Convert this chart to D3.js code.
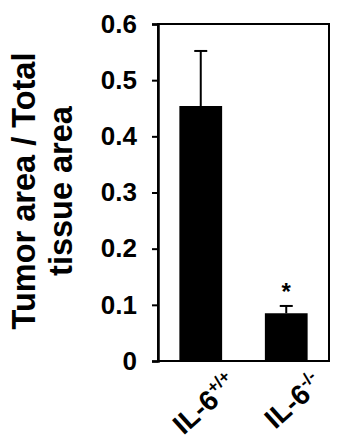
<!DOCTYPE html>
<html>
<head>
<meta charset="utf-8">
<script src="https://cdn.jsdelivr.net/npm/d3@7"></script>
<style>
  body { margin: 0; background: #fff; }
  text { font-family: "Liberation Sans", Arial, Helvetica, sans-serif; font-weight: bold; fill: #000; }
</style>
</head>
<body>
<svg id="chart" width="340" height="444"></svg>
<script>
// data
var groups = ["IL-6+/+", "IL-6-/-"];
var groupBase = ["IL-6", "IL-6"];
var groupSup = ["+/+", "-/-"];
var means = [0.454, 0.085];
var errors = [0.098, 0.013];
var signif = ["", "*"];
var yTicks = [0, 0.1, 0.2, 0.3, 0.4, 0.5, 0.6];
var yLabelLines = ["Tumor area / Total", "tissue area"];

var svg = d3.select("#chart");
var plotLeft = 158, plotRight = 329, plotTop = 24, plotBottom = 361;

var y = d3.scaleLinear().domain([0, 0.6]).range([plotBottom, plotTop]);
var x = d3.scaleBand().domain(groups).range([plotLeft, plotRight])
  .paddingInner(0.5).paddingOuter(0.25);

// frame
svg.append("rect")
  .attr("x", plotLeft).attr("y", plotTop)
  .attr("width", plotRight - plotLeft).attr("height", plotBottom - plotTop)
  .attr("fill", "none").attr("stroke", "#000").attr("stroke-width", 2);

// y axis
var yAxis = svg.append("g")
  .attr("transform", "translate(" + plotLeft + ",0)")
  .call(d3.axisLeft(y).tickValues(yTicks).tickSize(6).tickPadding(15)
    .tickFormat(function(d){ return d === 0 ? "0" : d.toFixed(1); }));
yAxis.select(".domain").attr("stroke-width", 2.5);
yAxis.selectAll(".tick line").attr("stroke-width", 2);
yAxis.selectAll(".tick text")
  .style("font-size", "26px")
  .style("font-family", "'Liberation Sans', Arial, sans-serif")
  .style("font-weight", "bold");

// bars
svg.selectAll("rect.bar").data(means).enter().append("rect")
  .attr("class", "bar")
  .attr("x", function(d, i){ return x(groups[i]); })
  .attr("y", function(d){ return y(d); })
  .attr("width", x.bandwidth())
  .attr("height", function(d){ return plotBottom - y(d); })
  .attr("fill", "#000");

// error bars (upper only)
var cap = 6.5;
means.forEach(function(m, i){
  var cx = x(groups[i]) + x.bandwidth() / 2;
  svg.append("line")
    .attr("x1", cx).attr("x2", cx)
    .attr("y1", y(m)).attr("y2", y(m + errors[i]))
    .attr("stroke", "#000").attr("stroke-width", 2);
  svg.append("line")
    .attr("x1", cx - cap).attr("x2", cx + cap)
    .attr("y1", y(m + errors[i])).attr("y2", y(m + errors[i]))
    .attr("stroke", "#000").attr("stroke-width", 2);
  if (signif[i]) {
    svg.append("text")
      .attr("x", cx).attr("y", y(m + errors[i]) - 6)
      .attr("text-anchor", "middle")
      .style("font-size", "24px")
      .text(signif[i]);
  }
});

// x labels, rotated
groups.forEach(function(g, i){
  var cx = x(g) + x.bandwidth() / 2;
  var t = svg.append("text")
    .attr("text-anchor", "end")
    .attr("transform", "translate(" + (cx + 38) + "," + 386 + ") rotate(-42)")
    .style("font-size", "28px");
  t.append("tspan").text(groupBase[i]);
  t.append("tspan").attr("dy", -11).style("font-size", "17px").text(groupSup[i]);
});

// y label
var yl = svg.append("text")
  .attr("transform", "translate(35,191) rotate(-90)")
  .attr("text-anchor", "middle")
  .style("font-size", "32.5px");
yl.selectAll("tspan").data(yLabelLines).enter().append("tspan")
  .attr("x", 0)
  .attr("dy", function(d, i){ return i === 0 ? 0 : 37; })
  .text(function(d){ return d; });
</script>
</body>
</html>
